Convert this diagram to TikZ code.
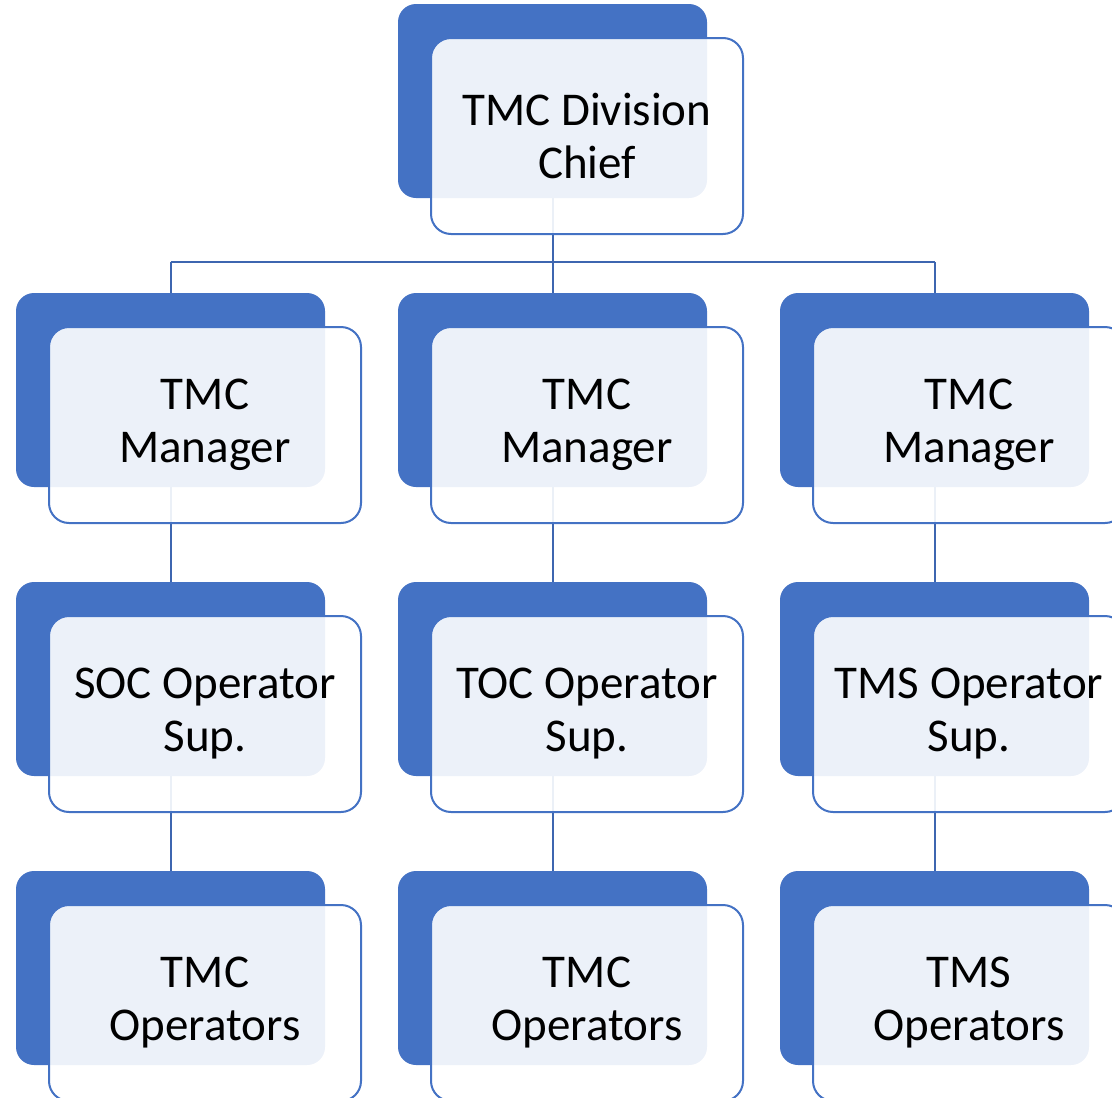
\documentclass[tikz,border=0pt]{standalone}
\usepackage{fontspec}
\setmainfont{Carlito}
\definecolor{accent}{HTML}{4472C4}
\definecolor{linkblue}{HTML}{3D66B0}
\begin{document}
\begin{tikzpicture}[x=1pt,y=-1pt,
  backbox/.style={rectangle, rounded corners=18pt, fill=accent, draw=none,
    minimum width=309pt, minimum height=194pt, inner sep=0pt},
  frontbox/.style={rectangle, rounded corners=20pt, draw=accent, line width=2pt,
    fill=white, fill opacity=0.9, text opacity=1,
    minimum width=312pt, minimum height=196pt, inner sep=0pt,
    align=center, font=\fontsize{47}{53}\selectfont},
  conn/.style={draw=linkblue, line width=2pt}]
\useasboundingbox (0,0) rectangle (1112,1098);
\clip (0,0) rectangle (1112,1098);

% back plates
\node[backbox] (b0) at (552.5,101) {};
\foreach \c/\x in {1/170.5,2/552.5,3/934.5}{
  \node[backbox] (m\c) at (\x,390) {};
  \node[backbox] (s\c) at (\x,679) {};
  \node[backbox] (o\c) at (\x,968) {};
}

% connectors
\coordinate (bus) at (552.5,262);
\draw[conn] (b0.south) -- (bus);
\draw[conn] (bus -| m1.north) -- (bus -| m3.north);
\foreach \c in {1,2,3}{
  \draw[conn] (bus -| m\c.north) -- (m\c.north);
  \draw[conn] (m\c.south) -- (s\c.north);
  \draw[conn] (s\c.south) -- (o\c.north);
}

% front cards
\node[frontbox] (f0) at (587,136) {TMC Division\\Chief};
\node[frontbox] (fm1) at (205,425) {TMC\\Manager};
\node[frontbox] (fm2) at (587,425) {TMC\\Manager};
\node[frontbox] (fm3) at (969,425) {TMC\\Manager};
\node[frontbox] (fs1) at (205,714) {SOC Operator\\Sup.};
\node[frontbox] (fs2) at (587,714) {TOC Operator\\Sup.};
\node[frontbox] (fs3) at (969,714) {TMS Operator\\Sup.};
\node[frontbox] (fo1) at (205,1003) {TMC\\Operators};
\node[frontbox] (fo2) at (587,1003) {TMC\\Operators};
\node[frontbox] (fo3) at (969,1003) {TMS\\Operators};
\end{tikzpicture}
\end{document}
